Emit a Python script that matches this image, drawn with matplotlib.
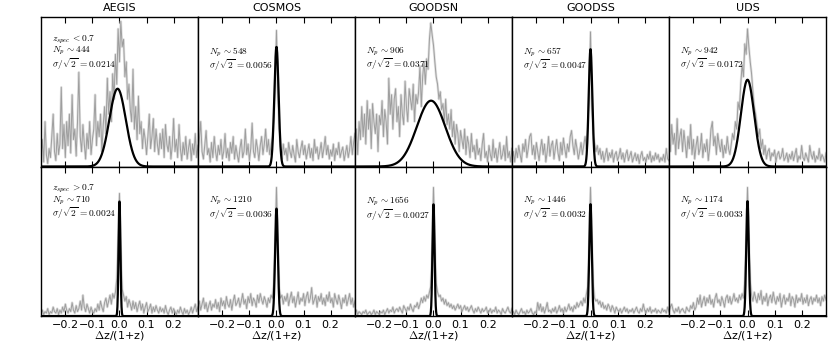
import numpy as np
import matplotlib
matplotlib.use("Agg")
import matplotlib.pyplot as plt

#########################
# Data (histogram heights in % of panel height, bins of 0.005 from -0.29 to 0.29)
fields = ["AEGIS", "COSMOS", "GOODSN", "GOODSS", "UDS"]
dz = np.linspace(-0.29, 0.29, 117)

hist_lo = {
    "AEGIS": [5, 18, 3, 30, 8, 2, 12, 6, 20, 35,
              10, 4, 22, 8, 15, 53, 12, 28, 6, 30,
              14, 35, 9, 48, 18, 25, 7, 30, 63, 20,
              10, 28, 15, 5, 22, 12, 30, 8, 18, 25,
              48, 14, 30, 20, 35, 10, 28, 40, 22, 59,
              35, 50, 30, 62, 45, 75, 55, 92, 70, 97,
              80, 85, 60, 70, 45, 55, 38, 30, 65, 25,
              40, 18, 47, 22, 30, 12, 25, 18, 8, 20,
              35, 12, 20, 32, 10, 25, 15, 8, 22, 12,
              25, 6, 28, 15, 10, 20, 5, 14, 32, 10,
              18, 6, 28, 12, 4, 16, 8, 20, 5, 12,
              18, 4, 15, 8, 22, 6, 14],
    "COSMOS": [8, 18, 30, 10, 5, 14, 24, 8, 12, 3,
               16, 6, 20, 10, 4, 14, 8, 18, 5, 10,
               22, 6, 12, 4, 16, 9, 20, 5, 14, 8,
               3, 12, 18, 6, 10, 25, 8, 15, 4, 12,
               29, 10, 6, 18, 12, 4, 14, 20, 8, 15,
               25, 10, 18, 8, 14, 20, 30, 55, 91, 50,
               25, 12, 5, 15, 8, 12, 4, 16, 10, 6,
               14, 8, 3, 18, 10, 6, 12, 17, 8, 14,
               5, 10, 15, 6, 12, 4, 18, 9, 13, 5,
               10, 16, 6, 12, 20, 8, 14, 5, 11, 7,
               15, 4, 12, 8, 16, 6, 10, 13, 4, 9,
               14, 6, 11, 20, 8, 16, 22],
    "GOODSN": [10, 25, 8, 30, 18, 40, 20, 35, 15, 44,
               25, 38, 12, 42, 30, 22, 35, 10, 34, 28,
               44, 20, 38, 30, 15, 59, 35, 48, 25, 45,
               52, 30, 40, 20, 48, 35, 28, 57, 40, 30,
               52, 45, 38, 55, 30, 48, 42, 50, 67, 40,
               60, 70, 55, 72, 65, 85, 96, 88, 81, 70,
               60, 55, 45, 50, 38, 42, 30, 45, 28, 35,
               25, 38, 20, 30, 15, 28, 22, 10, 24, 18,
               12, 25, 8, 20, 15, 6, 22, 10, 14, 5,
               18, 8, 12, 4, 15, 22, 6, 10, 3, 14,
               8, 4, 18, 6, 12, 3, 10, 16, 5, 8,
               14, 4, 20, 6, 10, 3, 12],
    "GOODSS": [4, 10, 3, 12, 6, 14, 8, 3, 15, 10,
               18, 6, 12, 20, 22, 8, 14, 5, 16, 10,
               4, 12, 18, 8, 15, 3, 10, 20, 7, 14,
               17, 5, 12, 18, 9, 4, 16, 8, 19, 12,
               6, 15, 10, 20, 24, 14, 8, 18, 12, 5,
               10, 16, 8, 14, 20, 12, 25, 45, 90, 40,
               22, 16, 10, 14, 8, 12, 5, 10, 3, 8,
               12, 4, 9, 6, 11, 3, 8, 10, 4, 7,
               12, 5, 9, 3, 8, 11, 4, 7, 10, 3,
               6, 9, 4, 8, 2, 7, 10, 4, 6, 3,
               8, 5, 10, 3, 7, 4, 9, 5, 8, 3,
               6, 4, 8, 3, 12, 5, 4],
    "UDS": [18, 10, 28, 15, 22, 8, 32, 12, 20, 25,
            10, 24, 15, 6, 20, 12, 28, 8, 18, 5,
            14, 20, 8, 12, 22, 6, 15, 10, 18, 4,
            12, 25, 30, 14, 20, 8, 22, 15, 10, 18,
            6, 14, 9, 20, 12, 8, 15, 22, 18, 30,
            25, 43, 38, 55, 68, 60, 82, 75, 92, 80,
            70, 62, 50, 40, 35, 28, 20, 25, 12, 18,
            8, 14, 5, 10, 12, 4, 9, 7, 11, 3,
            8, 10, 5, 7, 12, 4, 6, 9, 3, 8,
            5, 10, 4, 8, 12, 3, 7, 5, 14, 6,
            4, 9, 6, 3, 14, 8, 5, 10, 3, 7,
            5, 12, 4, 8, 6, 3, 9],
}

hist_hi = {
    "AEGIS": [2, 4, 1, 3, 2, 5, 1, 3, 2, 6,
              3, 2, 5, 1, 4, 2, 6, 3, 8, 4,
              2, 5, 3, 9, 4, 2, 7, 3, 5, 10,
              4, 14, 6, 3, 8, 5, 2, 6, 3, 2,
              5, 3, 8, 4, 10, 6, 3, 9, 12, 6,
              10, 14, 8, 15, 12, 16, 25, 50, 82, 45,
              18, 14, 10, 13, 6, 11, 8, 4, 10, 5,
              9, 3, 7, 10, 4, 8, 2, 6, 9, 3,
              5, 8, 2, 6, 3, 7, 4, 2, 6, 3,
              5, 2, 7, 3, 1, 4, 6, 2, 5, 3,
              1, 4, 2, 6, 3, 1, 5, 2, 4, 1,
              3, 6, 2, 5, 8, 3, 6],
    "COSMOS": [6, 10, 4, 8, 12, 5, 9, 3, 7, 10,
               4, 8, 6, 11, 5, 9, 3, 12, 7, 10,
               5, 13, 8, 6, 11, 4, 10, 14, 7, 9,
               12, 6, 10, 15, 8, 11, 5, 13, 9, 15,
               7, 12, 10, 6, 14, 9, 15, 11, 8, 13,
               10, 6, 12, 9, 14, 12, 22, 50, 86, 48,
               20, 12, 14, 8, 13, 10, 15, 7, 12, 16,
               9, 13, 6, 11, 16, 8, 12, 10, 15, 7,
               13, 16, 9, 12, 19, 8, 11, 14, 6, 13,
               10, 15, 8, 12, 7, 14, 10, 16, 9, 12,
               6, 15, 11, 8, 14, 10, 5, 12, 9, 14,
               7, 11, 15, 8, 12, 6, 10],
    "GOODSN": [2, 4, 1, 3, 2, 1, 3, 2, 4, 1,
               2, 3, 1, 2, 4, 1, 3, 2, 1, 3,
               2, 4, 1, 3, 5, 2, 4, 3, 6, 2,
               4, 5, 3, 6, 4, 2, 7, 5, 3, 6,
               4, 8, 5, 3, 7, 6, 9, 5, 8, 12,
               9, 13, 10, 14, 12, 16, 20, 45, 86, 50,
               22, 16, 13, 14, 10, 12, 8, 11, 7, 9,
               6, 8, 5, 7, 4, 6, 8, 5, 7, 3,
               5, 7, 4, 6, 3, 5, 7, 4, 2, 5,
               3, 6, 4, 2, 5, 3, 4, 6, 2, 3,
               5, 2, 4, 3, 6, 2, 4, 3, 1, 5,
               3, 2, 4, 6, 3, 2, 5],
    "GOODSS": [2, 3, 1, 4, 2, 1, 3, 5, 2, 3,
               1, 4, 2, 3, 5, 2, 1, 3, 2, 9,
               4, 8, 3, 6, 2, 5, 9, 3, 4, 2,
               5, 3, 6, 2, 4, 7, 3, 5, 2, 6,
               3, 5, 8, 4, 6, 3, 7, 5, 9, 6,
               8, 10, 7, 12, 9, 15, 20, 48, 86, 52,
               22, 12, 10, 11, 8, 10, 6, 9, 5, 7,
               4, 8, 6, 3, 7, 5, 2, 6, 4, 3,
               5, 2, 4, 6, 3, 5, 2, 4, 3, 5,
               2, 4, 6, 3, 2, 5, 3, 8, 4, 2,
               5, 3, 6, 2, 4, 3, 5, 2, 4, 3,
               2, 5, 3, 4, 2, 6, 3],
    "UDS": [3, 6, 8, 4, 2, 5, 3, 6, 2, 4,
            5, 3, 2, 6, 4, 3, 7, 5, 9, 4,
            6, 12, 8, 14, 6, 10, 13, 7, 12, 9,
            14, 8, 11, 6, 12, 15, 9, 11, 7, 13,
            10, 6, 12, 14, 9, 13, 8, 11, 15, 10,
            12, 9, 14, 11, 15, 12, 24, 50, 86, 52,
            24, 14, 10, 16, 12, 9, 15, 11, 17, 8,
            13, 10, 15, 7, 12, 14, 9, 16, 11, 8,
            13, 10, 15, 6, 11, 14, 8, 12, 10, 15,
            7, 13, 11, 6, 14, 9, 12, 10, 15, 8,
            12, 9, 14, 7, 11, 13, 8, 12, 10, 14,
            9, 12, 7, 13, 10, 14, 11],
}

# Gaussian fits: sigma/sqrt(2), peak height (fraction of panel), centre
np_lo = [444, 548, 906, 657, 942]
np_hi = [710, 1210, 1656, 1446, 1174]
sig_lo = [0.0214, 0.0056, 0.0371, 0.0047, 0.0172]
sig_hi = [0.0024, 0.0036, 0.0027, 0.0032, 0.0033]
amp_lo = [0.52, 0.80, 0.44, 0.785, 0.58]
amp_hi = [0.77, 0.72, 0.75, 0.75, 0.77]
mu_lo = [-0.007, 0.0, -0.009, 0.0, 0.0]
mu_hi = [0.0, 0.0, 0.0, 0.0, 0.0]
zlabels = [r"$z_{spec}\,{<}0.7$", r"$z_{spec}\,{>}0.7$"]
#########################

plt.rcParams['mathtext.fontset'] = 'cm'
plt.rcParams['font.size'] = 8

fig, axes = plt.subplots(2, 5, figsize=(8.31, 3.6), dpi=100, sharex=True)
fig.subplots_adjust(left=0.0493, right=0.994, top=0.953, bottom=0.122,
                    wspace=0, hspace=0)

xx = np.linspace(-0.29, 0.29, 800)

for row in range(2):
    hists = hist_lo if row == 0 else hist_hi
    sigs = sig_lo if row == 0 else sig_hi
    amps = amp_lo if row == 0 else amp_hi
    mus = mu_lo if row == 0 else mu_hi
    nps = np_lo if row == 0 else np_hi
    for j, name in enumerate(fields):
        ax = axes[row, j]
        h = np.array(hists[name]) / 100.
        ax.plot(dz, h, color='0.8', lw=1.8, alpha=0.6)
        ax.plot(dz, h, color='0.62', lw=0.7)
        s = sigs[j] * np.sqrt(2)
        g = amps[j] * np.exp(-0.5 * ((xx - mus[j]) / s) ** 2)
        ax.plot(xx, g, color='black', lw=1.6)

        lines = [r"$N_p\,{\sim}%d$" % nps[j], r"$\sigma/\sqrt{2}\,{=}%.4f$" % sigs[j]]
        ytop = 0.81
        if j == 0:
            lines = [zlabels[row]] + lines
            ytop = 0.89
        ax.text(0.07, ytop, "\n".join(lines), transform=ax.transAxes,
                va='top', ha='left', fontsize=6.8, linespacing=0.92)

        ax.set_xlim(-0.29, 0.29)
        ax.set_ylim(0, 1.0)
        ax.set_xticks([-0.2, -0.1, 0.0, 0.1, 0.2])
        ax.set_yticks([])
        ax.tick_params(axis='x', direction='in', top=True, length=4, width=0.8,
                       labelsize=8, pad=3)
        for sp in ax.spines.values():
            sp.set_linewidth(1.0)
        if row == 0:
            ax.set_title(name, fontsize=8, pad=4)
        else:
            ax.set_xlabel(r"$\Delta$z/(1+z)", fontsize=8, labelpad=-1)

fig.savefig("out.png", dpi=100)
